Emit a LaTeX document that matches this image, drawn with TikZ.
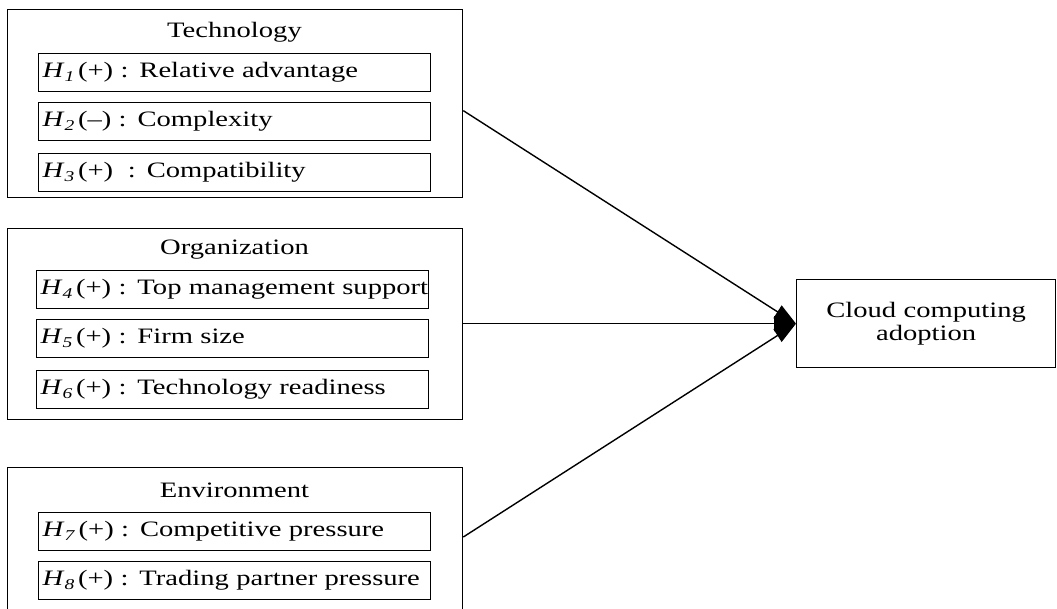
\documentclass[tikz,border=0pt]{standalone}
\usepackage{fontspec}
\setmainfont[FakeStretch=1.3]{Liberation Serif}
\usetikzlibrary{arrows.meta,calc}
\newcommand{\hyp}[1]{\textit{H}\raisebox{-0.35ex}{\fontsize{15}{15}\selectfont\textit{#1}}\,}
\begin{document}
\begin{tikzpicture}[x=1pt,y=-1pt,
  outerbox/.style={draw,line width=1.3pt,anchor=north west,minimum width=455pt,inner sep=0pt},
  innerbox/.style={draw,line width=1.3pt,anchor=north west,minimum width=392pt,minimum height=38pt,inner xsep=4pt,inner ysep=3pt,text width=384pt,align=left,font=\fontsize{22}{24}\selectfont},
  title/.style={font=\fontsize{22}{24}\selectfont,anchor=center},
  link/.style={line width=1.4pt,-{Triangle[length=22pt,width=15pt]}}]
\useasboundingbox (0,0) rectangle (1057,608);
\clip (0,0) rectangle (1057,608);
% Technology
\node[outerbox,minimum height=188pt] (tech) at (7,9) {};
\node[title] (techt) at (234.5,32) {Technology};
\node[innerbox] (h1) at (38,53) {\mbox{\hyp{1}(+) : Relative advantage}};
\node[innerbox] (h2) at (38,102) {\mbox{\hyp{2}(--) : Complexity}};
\node[innerbox] (h3) at (38,153) {\mbox{\hyp{3}(+) \ : Compatibility}};
% Organization
\node[outerbox,minimum height=191pt] (org) at (7,228) {};
\node[title] (orgt) at (234.5,250) {Organization};
\node[innerbox] (h4) at (36,270) {\mbox{\hyp{4}(+) : Top management support}};
\node[innerbox] (h5) at (36,319) {\mbox{\hyp{5}(+) : Firm size}};
\node[innerbox] (h6) at (36,370) {\mbox{\hyp{6}(+) : Technology readiness}};
% Environment
\node[outerbox,minimum height=160pt] (env) at (7,467) {};
\node[title] (envt) at (234.5,490) {Environment};
\node[innerbox] (h7) at (38,512) {\mbox{\hyp{7}(+) : Competitive pressure}};
\node[innerbox] (h8) at (38,561) {\mbox{\hyp{8}(+) : Trading partner pressure}};
% Outcome
\node[draw,line width=1.3pt,anchor=north west,minimum width=259pt,minimum height=88pt,inner sep=0pt,text width=255pt,align=center,font=\fontsize{22}{23}\selectfont] (cloud) at (796,279) {Cloud computing\\adoption};
% Connectors
\draw[link] ([yshift=-7pt]tech.east) -- (cloud.west);
\draw[link] (org.east |- cloud.west) -- (cloud.west);
\draw[link] ([yshift=-70pt]env.north east) -- (cloud.west);
\end{tikzpicture}
\end{document}
